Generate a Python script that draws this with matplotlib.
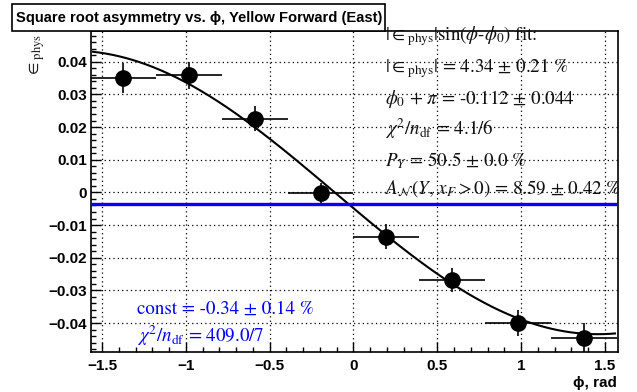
import numpy as np
import matplotlib
matplotlib.use("Agg")
import matplotlib.pyplot as plt
from matplotlib.patches import Rectangle
from matplotlib.ticker import MultipleLocator

# Binned square-root asymmetry vs azimuthal angle
phi = [-1.374, -0.982, -0.589, -0.196, 0.196, 0.589, 0.982, 1.374]
phi_err = [0.196, 0.196, 0.196, 0.196, 0.196, 0.196, 0.196, 0.196]
asym = [0.0351, 0.0358, 0.0226, -0.0002, -0.0135, -0.0267, -0.0400, -0.0446]
asym_err = [0.0046, 0.0040, 0.0037, 0.0030, 0.0038, 0.0037, 0.0041, 0.0045]

# Fit results
fit_amp = 0.0434        # |eps_phys|
fit_phase = -0.112      # phi_0 + pi
const_level = -0.0034   # constant fit

stats_lines = [
    r'$|\in_{\rm phys}|$sin($\phi$-$\phi_0$) fit:',
    r'$|\in_{\rm phys}|$ = 4.34 ± 0.21 %',
    r'$\phi_0$ + $\pi$ = -0.112 ± 0.044',
    r'$\chi^2/n_{\rm df}$ = 4.1/6',
    r'$P_Y$ = 50.5 ± 0.0 %',
    r'$A_{\mathcal{N}}(Y,\,x_F > 0)$ = 8.59 ± 0.42 %',
]
const_lines = [
    'const = -0.34 ± 0.14 %',
    r'$\chi^2/n_{\rm df}$ = 409.0/7',
]

plt.rcParams['mathtext.fontset'] = 'stix'

W, H = 637, 392
fig = plt.figure(figsize=(W / 100, H / 100), dpi=100)
fig.patch.set_facecolor('white')


def fx(px):
    return px / W


def fy(py):
    return 1 - py / H


ax = fig.add_axes([fx(91), fy(352), (618 - 91) / W, (352 - 31) / H])
ax.set_xlim(-1.566, 1.578)
ax.set_ylim(-0.04885, 0.0494)

# fit curves
xf = np.linspace(-1.555, 1.56, 400)
ax.plot(xf, -fit_amp * np.sin(xf - fit_phase), color='black', lw=1.5, zorder=3)
ax.plot([-1.555, 1.56], [const_level, const_level], color='#0000ff', lw=2.4, zorder=3)

ax.errorbar(phi, asym, xerr=phi_err, yerr=asym_err, fmt='o', color='black',
            markersize=11, elinewidth=1.2, capsize=0, zorder=4)

ax.xaxis.set_major_locator(MultipleLocator(0.5))
ax.xaxis.set_minor_locator(MultipleLocator(0.1))
ax.yaxis.set_major_locator(MultipleLocator(0.01))
ax.yaxis.set_minor_locator(MultipleLocator(0.002))
ax.tick_params(which='both', direction='in', top=False, right=False)
ax.tick_params(which='major', length=7, width=1.0)
ax.tick_params(which='minor', length=3.5, width=1.0)
ax.tick_params(axis='x', pad=5)
ax.tick_params(axis='y', pad=3)

def ytick_fmt(v, pos):
    if abs(v) < 1e-9:
        return '0'
    return f'{v:.2f}'.replace('-', '\u2212')

def xtick_fmt(v, pos):
    if abs(v) < 1e-9:
        return '0'
    s = f'{v:g}'
    return s.replace('-', '\u2212')

ax.yaxis.set_major_formatter(plt.FuncFormatter(ytick_fmt))
ax.xaxis.set_major_formatter(plt.FuncFormatter(xtick_fmt))
for lab in ax.get_xticklabels() + ax.get_yticklabels():
    lab.set_fontfamily('Liberation Sans')
    lab.set_fontweight('bold')
    lab.set_fontsize(11)

ax.grid(True, which='major', color='black', linestyle=(0, (1, 2.5)), linewidth=0.9)
for sp in ax.spines.values():
    sp.set_linewidth(1.2)

# title box
fig.add_artist(Rectangle((fx(12), fy(31)), (385 - 12) / W, (31 - 4) / H,
                         transform=fig.transFigure, facecolor='white',
                         edgecolor='black', lw=1.2, zorder=10))
fig.text(fx(199), fy(18), 'Square root asymmetry vs. \u03d5, Yellow Forward (East)',
         family=['Liberation Sans', 'DejaVu Sans'], fontweight='bold', fontsize=10.6,
         ha='center', va='center', zorder=11)

# axis titles
fig.text(fx(37), fy(34), r'$\in_{\rm phys}$', rotation=90, ha='center', va='top',
         fontsize=13, color='#222222')
fig.text(fx(617), fy(383), '\u03d5, rad', family=['Liberation Sans', 'DejaVu Sans'],
         fontweight='bold', fontsize=11, ha='right', va='center')

# fit statistics
baselines = [40, 72, 104, 135, 166, 194]
for line, yb in zip(stats_lines, baselines):
    fig.text(fx(385), fy(yb), line, family='STIXGeneral', fontsize=13.7,
             ha='left', va='baseline', color='#111111', zorder=6)

for line, yb in zip(const_lines, [314, 342]):
    fig.text(fx(137), fy(yb), line, family='STIXGeneral', fontsize=13.7,
             ha='left', va='baseline', color='#0000ff', zorder=6)

fig.savefig('out.png', dpi=100)
